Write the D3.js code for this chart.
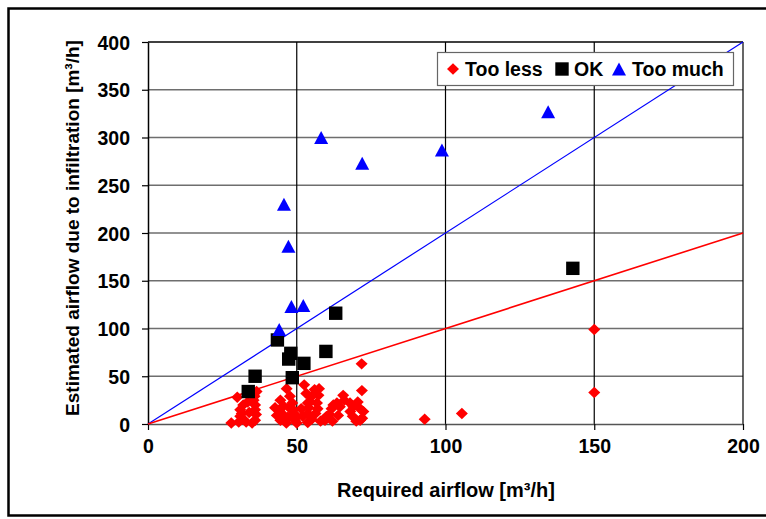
<!DOCTYPE html>
<html>
<head>
<meta charset="utf-8">
<script src="https://cdn.jsdelivr.net/npm/d3@7"></script>
<style>
  html, body { margin: 0; padding: 0; background: #fff; }
  svg { display: block; font-family: "Liberation Sans", Arial, sans-serif; }
</style>
</head>
<body>
<svg id="chart" width="766" height="519"></svg>
<script>
// ---- Data ----
const xTicks = [0, 50, 100, 150, 200];
const yTicks = [0, 50, 100, 150, 200, 250, 300, 350, 400];

const tooLessX = [28, 30, 30.5, 31, 31, 32, 33.5, 31.5, 32, 35.5, 36, 36, 36.5, 35, 36, 36.3, 35.8, 34, 33,
  44.5, 44.3, 43.3, 44.5, 46.5, 46.6, 47.7, 48.5, 48.8, 49.4, 49, 45.5, 47, 42.7, 50, 45, 47.5, 50,
  52.5, 53.2, 53.7, 53.7, 53.7, 56, 57.5, 57.3, 56.8, 56.3, 54.5, 55, 51.5, 52, 54, 57, 55, 58,
  59.5, 60, 62.3, 63.5, 63.9, 61.7, 65.6, 64.5, 62, 61, 66,
  68, 68.8, 67.9, 70.5, 71.9, 71.3, 72, 71.8, 71.3, 72.4, 69, 70,
  93, 105.5, 150, 150];
const tooLessY = [1, 28, 2, 15, 8, 20, 23, 11, 5, 25, 15, 4, 34, 1, 20, 10, 29, 12, 2,
  25, 15, 9, 4, 1, 37, 29, 22, 15, 4, 11, 19, 7, 17, 1, 11, 17, 8,
  41, 32, 22, 11, 1.5, 36, 37, 30, 22, 11, 23, 5, 16, 8, 17, 16, 29, 3,
  4, 8, 20, 22, 9, 16, 30, 18, 3, 10, 25,
  13, 8, 22, 23, 35, 16, 6, 63, 4, 13, 18, 3,
  5, 11, 33, 99];

const okX = [33.7, 36, 43.5, 47.3, 48, 48.5, 52.4, 59.8, 63.1, 142.8];
const okY = [34, 50, 88, 68, 74, 48.5, 63.5, 76, 116, 163];

const tooMuchX = [44.1, 48.2, 52.2, 47.2, 45.7, 58.2, 72, 98.8, 134.5];
const tooMuchY = [99, 123, 124, 186, 230, 300, 273, 287, 327];

const seriesNames = ["Too less", "OK", "Too much"];

// ---- Layout ----
const svg = d3.select("#chart");
const x = d3.scaleLinear().domain([0, 200]).range([148, 743]);
const y = d3.scaleLinear().domain([0, 400]).range([424, 42]);

// outer frame
svg.append("rect").attr("x", 8.5).attr("y", 8.5).attr("width", 800).attr("height", 507)
  .attr("fill", "none").attr("stroke", "#000").attr("stroke-width", 2.5);

// horizontal gridlines
svg.append("g").selectAll("line").data(yTicks.filter(t => t > 0 && t < 400)).join("line")
  .attr("x1", x(0)).attr("x2", x(200)).attr("y1", d => y(d)).attr("y2", d => y(d))
  .attr("stroke", "#6e6e6e").attr("stroke-width", 1.5);
// top line
svg.append("line").attr("x1", x(0)).attr("x2", x(200)).attr("y1", y(400)).attr("y2", y(400))
  .attr("stroke", "#000").attr("stroke-width", 1.5);
// vertical gridlines
svg.append("g").selectAll("line").data(xTicks.filter(t => t > 0)).join("line")
  .attr("x1", d => x(d)).attr("x2", d => x(d)).attr("y1", y(0)).attr("y2", y(400))
  .attr("stroke", "#000").attr("stroke-width", 1.2);

// axes
const xAxis = svg.append("g").attr("transform", `translate(0,${y(0)})`)
  .call(d3.axisBottom(x).tickValues(xTicks).tickSize(6).tickSizeOuter(0).tickPadding(9));
const yAxis = svg.append("g").attr("transform", `translate(${x(0)},0)`)
  .call(d3.axisLeft(y).tickValues(yTicks).tickSize(6).tickSizeOuter(0).tickPadding(12));
[xAxis, yAxis].forEach(g => {
  g.select(".domain").attr("stroke", "#000").attr("stroke-width", 1.5);
  g.selectAll(".tick line").attr("stroke", "#000").attr("stroke-width", 1.2);
  g.selectAll(".tick text").attr("font-size", 19.5).attr("font-weight", "bold")
    .attr("fill", "#000").attr("font-family", '"Liberation Sans", Arial, sans-serif');
});
xAxis.select(".domain").attr("stroke", "#555");
yAxis.selectAll(".tick text").attr("dy", "0.36em");

// reference lines y = 2x (blue) and y = x (red)
svg.append("line").attr("x1", x(0)).attr("y1", y(0)).attr("x2", x(200)).attr("y2", y(400))
  .attr("stroke", "#0000ff").attr("stroke-width", 1.2);
svg.append("line").attr("x1", x(0)).attr("y1", y(0)).attr("x2", x(200)).attr("y2", y(200))
  .attr("stroke", "#ff0000").attr("stroke-width", 1.6);

// marker shapes
const diamond = (w, h) => `M0,${-h}L${w},0L0,${h}L${-w},0Z`;
const square = (s) => `M${-s},${-s}H${s}V${s}H${-s}Z`;
const triangle = (w, h) => `M0,${-h/2}L${w/2},${h/2}L${-w/2},${h/2}Z`;

const tooLess = tooLessX.map((v, i) => [v, tooLessY[i]]);
const ok = okX.map((v, i) => [v, okY[i]]);
const tooMuch = tooMuchX.map((v, i) => [v, tooMuchY[i]]);

svg.append("g").selectAll("path").data(tooLess).join("path")
  .attr("d", diamond(6, 5.7)).attr("transform", d => `translate(${x(d[0])},${y(d[1])})`)
  .attr("fill", "#ff0000");
svg.append("g").selectAll("path").data(ok).join("path")
  .attr("d", square(6.7)).attr("transform", d => `translate(${x(d[0])},${y(d[1])})`)
  .attr("fill", "#000");
svg.append("g").selectAll("path").data(tooMuch).join("path")
  .attr("d", triangle(14, 13)).attr("transform", d => `translate(${x(d[0])},${y(d[1])})`)
  .attr("fill", "#0000ff");

// axis titles
svg.append("text").attr("x", 446).attr("y", 497).attr("text-anchor", "middle")
  .attr("font-size", 20).attr("font-weight", "bold").text("Required airflow [m³/h]");
svg.append("text").attr("transform", "translate(79,228) rotate(-90)").attr("text-anchor", "middle")
  .attr("font-size", 19).attr("font-weight", "bold").text("Estimated airflow due to infiltration [m³/h]");

// legend
const lg = svg.append("g");
lg.append("rect").attr("x", 437.5).attr("y", 52.5).attr("width", 296).attr("height", 33)
  .attr("fill", "#fff").attr("stroke", "#666").attr("stroke-width", 1.2);
const legendItems = [
  { name: seriesNames[0], mx: 453, tx: 465, shape: diamond(6, 5.7), color: "#ff0000" },
  { name: seriesNames[1], mx: 562, tx: 574, shape: square(6.7), color: "#000" },
  { name: seriesNames[2], mx: 619, tx: 632, shape: triangle(14, 13), color: "#0000ff" }
];
legendItems.forEach(it => {
  lg.append("path").attr("d", it.shape).attr("transform", `translate(${it.mx},69)`).attr("fill", it.color);
  lg.append("text").attr("x", it.tx).attr("y", 76).attr("font-size", 19.5).attr("font-weight", "bold")
    .text(it.name);
});
</script>
</body>
</html>
